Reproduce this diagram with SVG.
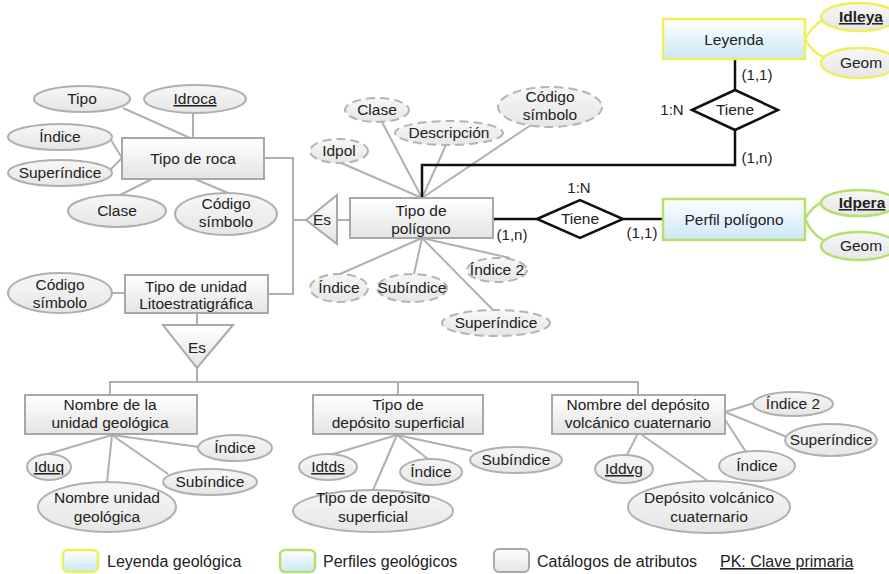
<svg xmlns="http://www.w3.org/2000/svg" width="889" height="574" viewBox="0 0 889 574">
  <defs>
    <linearGradient id="gGray" x1="0" y1="0" x2="0" y2="1">
      <stop offset="0" stop-color="#ffffff"/>
      <stop offset="1" stop-color="#e4e4e4"/>
    </linearGradient>
    <linearGradient id="gEll" x1="0" y1="0" x2="0" y2="1">
      <stop offset="0" stop-color="#f7f7f7"/>
      <stop offset="1" stop-color="#e6e6e6"/>
    </linearGradient>
    <linearGradient id="gBlue" x1="0" y1="0" x2="0" y2="1">
      <stop offset="0" stop-color="#ffffff"/>
      <stop offset="1" stop-color="#cbe7f6"/>
    </linearGradient>
  </defs>
  <style>
    text { font-family: "Liberation Sans", Arial, sans-serif; font-size: 15.5px; fill: #222; text-anchor: middle; }
    .ent { fill: url(#gGray); stroke: #a8a8a8; stroke-width: 2; }
    .att { fill: url(#gEll); stroke: #b0b0b0; stroke-width: 2; }
    .dash { fill: url(#gEll); stroke: #b4b4b4; stroke-width: 2; stroke-dasharray: 9 5; }
    .ley { fill: url(#gBlue); stroke: #eef05a; stroke-width: 2.5; }
    .per { fill: url(#gBlue); stroke: #b6df6c; stroke-width: 2.5; }
    .ellY { fill: url(#gEll); stroke: #eef05a; stroke-width: 2.5; }
    .ellG { fill: url(#gEll); stroke: #b6df6c; stroke-width: 2.5; }
    .rel { fill: #ffffff; stroke: #111; stroke-width: 2.5; }
    .isa { fill: url(#gGray); stroke: #a8a8a8; stroke-width: 2; }
    .ln { fill: none; stroke: #b0b0b0; stroke-width: 2; }
    .lnY { fill: none; stroke: #eef05a; stroke-width: 2.5; }
    .lnG { fill: none; stroke: #b6df6c; stroke-width: 2.5; }
    .lnB { fill: none; stroke: #111; stroke-width: 2.5; }
    .pk { text-decoration: underline; }
    .lbl { font-size: 15px; }
    .leg { text-anchor: start; font-size: 16px; }
  </style>

  <!-- connectors -->
  <g id="connectors">
    <!-- Tipo de roca attributes -->
    <line class="ln" x1="123" y1="108" x2="190" y2="138"/>
    <line class="ln" x1="193" y1="113" x2="193" y2="138"/>
    <line class="ln" x1="111" y1="140" x2="122" y2="158"/>
    <line class="ln" x1="110" y1="170" x2="122" y2="158"/>
    <line class="ln" x1="152" y1="179" x2="120" y2="195"/>
    <line class="ln" x1="195" y1="179" x2="228" y2="193"/>
    <!-- generalisation of Tipo de polígono -->
    <polyline class="ln" points="264,158 293,158 293,294 268,294"/>
    <line class="ln" x1="293" y1="220" x2="306" y2="220"/>
    <line class="ln" x1="337" y1="220" x2="350" y2="220"/>
    <!-- Tipo de polígono attributes -->
    <line class="ln" x1="422" y1="198" x2="339" y2="162"/>
    <line class="ln" x1="422" y1="198" x2="382" y2="122"/>
    <line class="ln" x1="422" y1="198" x2="446" y2="145"/>
    <line class="ln" x1="422" y1="198" x2="531" y2="125"/>
    <line class="ln" x1="422" y1="238" x2="340" y2="274"/>
    <line class="ln" x1="422" y1="238" x2="414" y2="274"/>
    <line class="ln" x1="422" y1="238" x2="510" y2="258"/>
    <line class="ln" x1="422" y1="238" x2="493" y2="310"/>
    <!-- Tipo de unidad Litoestratigráfica -->
    <line class="ln" x1="112" y1="293" x2="125" y2="293"/>
    <line class="ln" x1="197" y1="313" x2="197" y2="325"/>
    <line class="ln" x1="197" y1="368" x2="197" y2="382"/>
    <polyline class="ln" points="110,395 110,382 638,382 638,395"/>
    <line class="ln" x1="398" y1="382" x2="398" y2="395"/>
    <!-- Nombre de la unidad geológica -->
    <line class="ln" x1="112" y1="435" x2="48" y2="454"/>
    <line class="ln" x1="112" y1="435" x2="107" y2="482"/>
    <line class="ln" x1="112" y1="435" x2="168" y2="474"/>
    <line class="ln" x1="112" y1="435" x2="199" y2="447"/>
    <!-- Tipo de depósito superficial -->
    <line class="ln" x1="397" y1="435" x2="330" y2="455"/>
    <line class="ln" x1="397" y1="435" x2="373" y2="490"/>
    <line class="ln" x1="397" y1="435" x2="428" y2="459"/>
    <line class="ln" x1="397" y1="435" x2="472" y2="451"/>
    <!-- Nombre del depósito volcánico cuaternario -->
    <line class="ln" x1="725" y1="412" x2="754" y2="403"/>
    <line class="ln" x1="725" y1="412" x2="787" y2="437"/>
    <line class="ln" x1="724" y1="418" x2="746" y2="452"/>
    <line class="ln" x1="637" y1="435" x2="627" y2="455"/>
    <line class="ln" x1="642" y1="435" x2="708" y2="481"/>
    <!-- Leyenda / Perfil attributes -->
    <path class="lnY" d="M805,39 Q812,26 823,20"/>
    <path class="lnY" d="M805,39 Q812,52 823,57"/>
    <path class="lnG" d="M805,219 Q812,206 823,202"/>
    <path class="lnG" d="M805,219 Q812,234 823,240"/>
    <!-- relationships -->
    <polyline class="lnB" points="422,198 422,165 735,165 735,130"/>
    <line class="lnB" x1="735" y1="59" x2="735" y2="90"/>
    <line class="lnB" x1="493" y1="219" x2="537" y2="219"/>
    <line class="lnB" x1="623" y1="219" x2="663" y2="219"/>
  </g>

  <!-- Tipo de roca -->
  <g id="tipo-roca">
    <rect class="ent" x="122" y="138" width="142" height="41"/>
    <text x="193" y="164">Tipo de roca</text>
  </g>
  <g id="roca-tipo"><ellipse class="att" cx="82" cy="99" rx="48" ry="13"/><text x="82" y="104">Tipo</text></g>
  <g id="roca-idroca"><ellipse class="att" cx="195" cy="99" rx="51" ry="14"/><text class="pk" x="195" y="104">Idroca</text></g>
  <g id="roca-indice"><ellipse class="att" cx="60" cy="137" rx="52" ry="13"/><text x="60" y="142">Índice</text></g>
  <g id="roca-superindice"><ellipse class="att" cx="60" cy="173" rx="52" ry="13"/><text x="60" y="178">Superíndice</text></g>
  <g id="roca-clase"><ellipse class="att" cx="117" cy="211" rx="49" ry="16"/><text x="117" y="216">Clase</text></g>
  <g id="roca-codigo"><ellipse class="att" cx="226" cy="214" rx="51" ry="21"/><text x="226" y="209">Código</text><text x="226" y="227">símbolo</text></g>

  <!-- Es (Tipo de polígono) -->
  <g id="es-poligono">
    <polygon class="isa" points="306,220 337,195 337,244"/>
    <text x="322" y="225">Es</text>
  </g>

  <!-- Tipo de polígono -->
  <g id="tipo-poligono">
    <rect class="ent" x="350" y="198" width="143" height="40"/>
    <text x="421" y="216">Tipo de</text>
    <text x="421" y="234">polígono</text>
  </g>
  <g id="pol-idpol"><ellipse class="dash" cx="339" cy="151" rx="29" ry="12"/><text x="339" y="156">Idpol</text></g>
  <g id="pol-clase"><ellipse class="dash" cx="377" cy="110" rx="32" ry="12"/><text x="377" y="115">Clase</text></g>
  <g id="pol-descripcion"><ellipse class="dash" cx="449" cy="133" rx="54" ry="12"/><text x="449" y="138">Descripción</text></g>
  <g id="pol-codigo"><ellipse class="dash" cx="550" cy="107" rx="52" ry="20"/><text x="550" y="102">Código</text><text x="550" y="120">símbolo</text></g>
  <g id="pol-indice"><ellipse class="dash" cx="339" cy="288" rx="29" ry="14"/><text x="339" y="293">Índice</text></g>
  <g id="pol-subindice"><ellipse class="dash" cx="412" cy="288" rx="35" ry="14"/><text x="412" y="293">Subíndice</text></g>
  <g id="pol-indice2"><ellipse class="dash" cx="497" cy="270" rx="30" ry="12"/><text x="497" y="275">Índice 2</text></g>
  <g id="pol-superindice"><ellipse class="dash" cx="496" cy="323" rx="54" ry="13"/><text x="496" y="328">Superíndice</text></g>

  <!-- Leyenda -->
  <g id="leyenda">
    <rect class="ley" x="663" y="19" width="142" height="40"/>
    <text x="734" y="45">Leyenda</text>
  </g>
  <g id="ley-idleya"><ellipse class="ellY" cx="859" cy="17" rx="38" ry="14"/><text class="pk" x="861" y="22" font-weight="bold">Idleya</text></g>
  <g id="ley-geom"><ellipse class="ellY" cx="859" cy="63" rx="38" ry="15"/><text x="861" y="68">Geom</text></g>

  <!-- Tiene (Leyenda) -->
  <g id="tiene-leyenda">
    <polygon class="rel" points="692,110 735,90 778,110 735,130"/>
    <text x="735" y="115">Tiene</text>
    <text class="lbl" x="757" y="80">(1,1)</text>
    <text class="lbl" x="672" y="115">1:N</text>
    <text class="lbl" x="757" y="163">(1,n)</text>
  </g>

  <!-- Perfil polígono -->
  <g id="perfil-poligono">
    <rect class="per" x="663" y="199" width="142" height="41"/>
    <text x="734" y="225">Perfil polígono</text>
  </g>
  <g id="per-idpera"><ellipse class="ellG" cx="859" cy="203" rx="38" ry="13"/><text class="pk" x="862" y="208" font-weight="bold">Idpera</text></g>
  <g id="per-geom"><ellipse class="ellG" cx="859" cy="246" rx="38" ry="14"/><text x="861" y="251">Geom</text></g>

  <!-- Tiene (Perfil) -->
  <g id="tiene-perfil">
    <polygon class="rel" points="537,219 580,200 623,219 580,238"/>
    <text x="580" y="224">Tiene</text>
    <text class="lbl" x="579" y="193">1:N</text>
    <text class="lbl" x="512" y="240">(1,n)</text>
    <text class="lbl" x="642" y="238">(1,1)</text>
  </g>

  <!-- Tipo de unidad Litoestratigráfica -->
  <g id="tipo-unidad">
    <rect class="ent" x="125" y="275" width="143" height="38"/>
    <text x="196" y="292">Tipo de unidad</text>
    <text x="196" y="309">Litoestratigráfica</text>
  </g>
  <g id="unidad-codigo"><ellipse class="att" cx="60" cy="293" rx="52" ry="20"/><text x="60" y="290">Código</text><text x="60" y="308">símbolo</text></g>

  <!-- Es (Tipo de unidad) -->
  <g id="es-unidad">
    <polygon class="isa" points="163,325 233,325 197,368"/>
    <text x="197" y="353">Es</text>
  </g>

  <!-- Nombre de la unidad geológica -->
  <g id="nombre-unidad">
    <rect class="ent" x="25" y="395" width="172" height="39"/>
    <text x="110" y="410">Nombre de la</text>
    <text x="110" y="428">unidad geológica</text>
  </g>
  <g id="nug-iduq"><ellipse class="att" cx="49" cy="467" rx="22" ry="13"/><text class="pk" x="49" y="472">Iduq</text></g>
  <g id="nug-indice"><ellipse class="att" cx="235" cy="448" rx="37" ry="13"/><text x="235" y="453">Índice</text></g>
  <g id="nug-subindice"><ellipse class="att" cx="210" cy="482" rx="47" ry="13"/><text x="210" y="487">Subíndice</text></g>
  <g id="nug-nombre"><ellipse class="att" cx="107" cy="507" rx="69" ry="25"/><text x="107" y="503">Nombre unidad</text><text x="107" y="522">geológica</text></g>

  <!-- Tipo de depósito superficial -->
  <g id="tipo-deposito">
    <rect class="ent" x="313" y="395" width="170" height="39"/>
    <text x="398" y="410">Tipo de</text>
    <text x="398" y="428">depósito superficial</text>
  </g>
  <g id="tds-idtds"><ellipse class="att" cx="328" cy="467" rx="29" ry="13"/><text class="pk" x="328" y="472">Idtds</text></g>
  <g id="tds-indice"><ellipse class="att" cx="431" cy="472" rx="31" ry="13"/><text x="431" y="477">Índice</text></g>
  <g id="tds-subindice"><ellipse class="att" cx="516" cy="460" rx="46" ry="13"/><text x="516" y="465">Subíndice</text></g>
  <g id="tds-tipo"><ellipse class="att" cx="373" cy="511" rx="80" ry="21"/><text x="373" y="503">Tipo de depósito</text><text x="373" y="522">superficial</text></g>

  <!-- Nombre del depósito volcánico cuaternario -->
  <g id="deposito-volcanico">
    <rect class="ent" x="552" y="395" width="173" height="39"/>
    <text x="638" y="410">Nombre del depósito</text>
    <text x="638" y="428">volcánico cuaternario</text>
  </g>
  <g id="dvc-indice2"><ellipse class="att" cx="793" cy="404" rx="40" ry="12"/><text x="793" y="409">Índice 2</text></g>
  <g id="dvc-superindice"><ellipse class="att" cx="831" cy="440" rx="46" ry="16"/><text x="831" y="445">Superíndice</text></g>
  <g id="dvc-indice"><ellipse class="att" cx="757" cy="466" rx="38" ry="15"/><text x="757" y="471">Índice</text></g>
  <g id="dvc-iddvg"><ellipse class="att" cx="624" cy="469" rx="29" ry="14"/><text class="pk" x="624" y="474">Iddvg</text></g>
  <g id="dvc-deposito"><ellipse class="att" cx="709" cy="507" rx="81" ry="26"/><text x="709" y="503">Depósito volcánico</text><text x="709" y="522">cuaternario</text></g>

  <!-- legend -->
  <g id="legend">
    <rect class="ley" x="63" y="550" width="35" height="22" rx="5"/>
    <text class="leg" x="107" y="567">Leyenda geológica</text>
    <rect class="per" x="280" y="550" width="35" height="22" rx="5"/>
    <text class="leg" x="323" y="567">Perfiles geológicos</text>
    <rect class="ent" x="494" y="549" width="35" height="23" rx="5"/>
    <text class="leg" x="537" y="567">Catálogos de atributos</text>
    <text class="leg pk" x="720" y="567">PK: Clave primaria</text>
  </g>
</svg>
